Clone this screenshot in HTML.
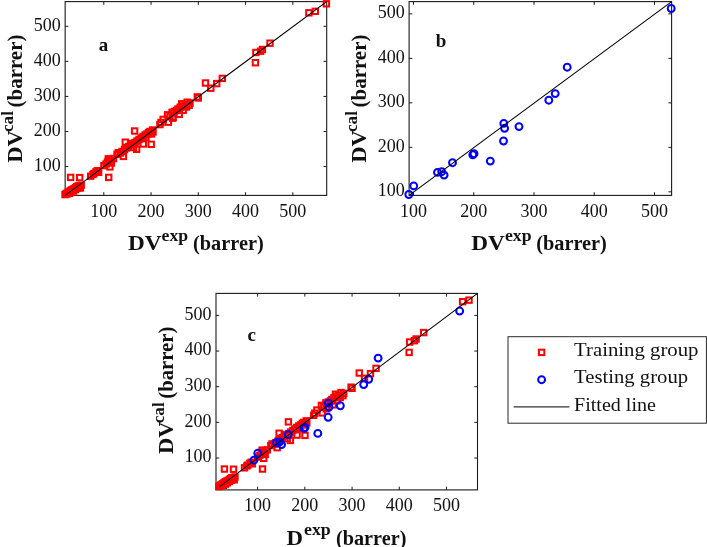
<!DOCTYPE html>
<html lang="en"><head><meta charset="utf-8"><title>DV cal vs DV exp</title>
<style>
html,body{margin:0;padding:0;background:#fff;}
body{width:707px;height:547px;overflow:hidden;}
svg{display:block;}
text{font-family:"Liberation Serif","DejaVu Serif",serif;fill:#111;}
.tk{font-size:19px;}
.lb{font-size:20.5px;font-weight:bold;}
.sp{font-size:17px;font-weight:bold;}
.pn{font-size:19px;font-weight:bold;}
.lg{font-size:19.6px;}
</style></head><body>
<svg width="707" height="547" viewBox="0 0 707 547">
<rect width="707" height="547" fill="#fff"/>
<rect x="65.15" y="1.60" width="261.55" height="193.80" fill="none" stroke="#1a1a1a" stroke-width="1.1"/>
<path d="M103.80 195.40v-3.2M103.80 1.60v3.2M151.06 195.40v-3.2M151.06 1.60v3.2M198.32 195.40v-3.2M198.32 1.60v3.2M245.58 195.40v-3.2M245.58 1.60v3.2M292.84 195.40v-3.2M292.84 1.60v3.2M65.15 166.55h3.2M326.70 166.55h-3.2M65.15 131.49h3.2M326.70 131.49h-3.2M65.15 96.43h3.2M326.70 96.43h-3.2M65.15 61.37h3.2M326.70 61.37h-3.2M65.15 26.31h3.2M326.70 26.31h-3.2" stroke="#1a1a1a" stroke-width="1" fill="none"/>
<text class="tk" x="103.80" y="216.50" text-anchor="middle" textLength="27" lengthAdjust="spacingAndGlyphs">100</text>
<text class="tk" x="151.06" y="216.50" text-anchor="middle" textLength="27" lengthAdjust="spacingAndGlyphs">200</text>
<text class="tk" x="198.32" y="216.50" text-anchor="middle" textLength="27" lengthAdjust="spacingAndGlyphs">300</text>
<text class="tk" x="245.58" y="216.50" text-anchor="middle" textLength="27" lengthAdjust="spacingAndGlyphs">400</text>
<text class="tk" x="292.84" y="216.50" text-anchor="middle" textLength="27" lengthAdjust="spacingAndGlyphs">500</text>
<text class="tk" x="60.75" y="170.85" text-anchor="end" textLength="27" lengthAdjust="spacingAndGlyphs">100</text>
<text class="tk" x="60.75" y="135.79" text-anchor="end" textLength="27" lengthAdjust="spacingAndGlyphs">200</text>
<text class="tk" x="60.75" y="100.73" text-anchor="end" textLength="27" lengthAdjust="spacingAndGlyphs">300</text>
<text class="tk" x="60.75" y="65.67" text-anchor="end" textLength="27" lengthAdjust="spacingAndGlyphs">400</text>
<text class="tk" x="60.75" y="30.61" text-anchor="end" textLength="27" lengthAdjust="spacingAndGlyphs">500</text>
<g fill="none" stroke="#ff0000" stroke-width="2.0">
<rect x="67.90" y="174.70" width="5.4" height="5.4"/>
<rect x="77.00" y="174.90" width="5.4" height="5.4"/>
<rect x="106.00" y="174.70" width="5.4" height="5.4"/>
<rect x="62.30" y="191.90" width="5.4" height="5.4"/>
<rect x="63.30" y="191.20" width="5.4" height="5.4"/>
<rect x="64.30" y="190.50" width="5.4" height="5.4"/>
<rect x="65.30" y="189.80" width="5.4" height="5.4"/>
<rect x="66.30" y="189.10" width="5.4" height="5.4"/>
<rect x="67.30" y="188.40" width="5.4" height="5.4"/>
<rect x="68.30" y="187.70" width="5.4" height="5.4"/>
<rect x="69.30" y="187.00" width="5.4" height="5.4"/>
<rect x="70.50" y="186.50" width="5.4" height="5.4"/>
<rect x="71.70" y="185.90" width="5.4" height="5.4"/>
<rect x="72.90" y="184.90" width="5.4" height="5.4"/>
<rect x="74.10" y="184.00" width="5.4" height="5.4"/>
<rect x="75.30" y="183.20" width="5.4" height="5.4"/>
<rect x="76.50" y="183.60" width="5.4" height="5.4"/>
<rect x="78.50" y="182.50" width="5.4" height="5.4"/>
<rect x="77.70" y="185.30" width="5.4" height="5.4"/>
<rect x="64.80" y="190.90" width="5.4" height="5.4"/>
<rect x="66.80" y="190.70" width="5.4" height="5.4"/>
<rect x="68.80" y="189.60" width="5.4" height="5.4"/>
<rect x="70.80" y="188.30" width="5.4" height="5.4"/>
<rect x="72.80" y="186.90" width="5.4" height="5.4"/>
<rect x="74.80" y="185.60" width="5.4" height="5.4"/>
<rect x="77.50" y="183.10" width="5.4" height="5.4"/>
<rect x="88.00" y="173.50" width="5.4" height="5.4"/>
<rect x="90.30" y="171.70" width="5.4" height="5.4"/>
<rect x="91.30" y="170.80" width="5.4" height="5.4"/>
<rect x="94.60" y="168.00" width="5.4" height="5.4"/>
<rect x="95.90" y="169.60" width="5.4" height="5.4"/>
<rect x="93.30" y="169.10" width="5.4" height="5.4"/>
<rect x="101.20" y="162.90" width="5.4" height="5.4"/>
<rect x="103.30" y="161.30" width="5.4" height="5.4"/>
<rect x="105.60" y="156.10" width="5.4" height="5.4"/>
<rect x="105.90" y="157.90" width="5.4" height="5.4"/>
<rect x="107.20" y="164.20" width="5.4" height="5.4"/>
<rect x="108.70" y="160.30" width="5.4" height="5.4"/>
<rect x="104.80" y="159.30" width="5.4" height="5.4"/>
<rect x="107.80" y="157.80" width="5.4" height="5.4"/>
<rect x="110.80" y="155.80" width="5.4" height="5.4"/>
<rect x="114.30" y="151.60" width="5.4" height="5.4"/>
<rect x="115.60" y="150.00" width="5.4" height="5.4"/>
<rect x="117.80" y="150.30" width="5.4" height="5.4"/>
<rect x="120.70" y="153.70" width="5.4" height="5.4"/>
<rect x="119.30" y="148.80" width="5.4" height="5.4"/>
<rect x="122.60" y="139.50" width="5.4" height="5.4"/>
<rect x="123.80" y="145.30" width="5.4" height="5.4"/>
<rect x="121.80" y="146.80" width="5.4" height="5.4"/>
<rect x="125.80" y="143.80" width="5.4" height="5.4"/>
<rect x="127.80" y="142.30" width="5.4" height="5.4"/>
<rect x="129.30" y="140.80" width="5.4" height="5.4"/>
<rect x="130.80" y="144.80" width="5.4" height="5.4"/>
<rect x="131.90" y="128.30" width="5.4" height="5.4"/>
<rect x="133.90" y="146.60" width="5.4" height="5.4"/>
<rect x="134.30" y="138.30" width="5.4" height="5.4"/>
<rect x="132.30" y="139.80" width="5.4" height="5.4"/>
<rect x="136.30" y="136.80" width="5.4" height="5.4"/>
<rect x="138.30" y="135.30" width="5.4" height="5.4"/>
<rect x="140.60" y="141.30" width="5.4" height="5.4"/>
<rect x="140.30" y="133.80" width="5.4" height="5.4"/>
<rect x="142.30" y="132.30" width="5.4" height="5.4"/>
<rect x="144.30" y="131.30" width="5.4" height="5.4"/>
<rect x="143.30" y="134.80" width="5.4" height="5.4"/>
<rect x="145.80" y="129.80" width="5.4" height="5.4"/>
<rect x="147.30" y="128.80" width="5.4" height="5.4"/>
<rect x="148.50" y="141.60" width="5.4" height="5.4"/>
<rect x="148.80" y="131.30" width="5.4" height="5.4"/>
<rect x="149.80" y="127.30" width="5.4" height="5.4"/>
<rect x="150.30" y="129.30" width="5.4" height="5.4"/>
<rect x="157.20" y="121.90" width="5.4" height="5.4"/>
<rect x="158.30" y="119.80" width="5.4" height="5.4"/>
<rect x="160.40" y="116.70" width="5.4" height="5.4"/>
<rect x="170.00" y="115.50" width="5.4" height="5.4"/>
<rect x="164.90" y="112.10" width="5.4" height="5.4"/>
<rect x="165.70" y="119.50" width="5.4" height="5.4"/>
<rect x="167.30" y="113.30" width="5.4" height="5.4"/>
<rect x="169.40" y="109.60" width="5.4" height="5.4"/>
<rect x="170.40" y="114.60" width="5.4" height="5.4"/>
<rect x="171.80" y="108.80" width="5.4" height="5.4"/>
<rect x="173.80" y="107.80" width="5.4" height="5.4"/>
<rect x="176.50" y="111.60" width="5.4" height="5.4"/>
<rect x="175.30" y="106.30" width="5.4" height="5.4"/>
<rect x="177.50" y="104.50" width="5.4" height="5.4"/>
<rect x="179.00" y="101.10" width="5.4" height="5.4"/>
<rect x="180.50" y="107.50" width="5.4" height="5.4"/>
<rect x="180.30" y="103.30" width="5.4" height="5.4"/>
<rect x="182.30" y="102.30" width="5.4" height="5.4"/>
<rect x="184.50" y="99.50" width="5.4" height="5.4"/>
<rect x="186.50" y="102.50" width="5.4" height="5.4"/>
<rect x="187.30" y="100.30" width="5.4" height="5.4"/>
<rect x="183.80" y="104.30" width="5.4" height="5.4"/>
<rect x="194.60" y="94.20" width="5.4" height="5.4"/>
<rect x="195.60" y="95.30" width="5.4" height="5.4"/>
<rect x="202.80" y="80.30" width="5.4" height="5.4"/>
<rect x="208.10" y="85.50" width="5.4" height="5.4"/>
<rect x="214.00" y="80.90" width="5.4" height="5.4"/>
<rect x="219.60" y="75.70" width="5.4" height="5.4"/>
<rect x="252.70" y="60.00" width="5.4" height="5.4"/>
<rect x="253.20" y="49.80" width="5.4" height="5.4"/>
<rect x="257.90" y="48.50" width="5.4" height="5.4"/>
<rect x="259.70" y="46.80" width="5.4" height="5.4"/>
<rect x="267.30" y="40.50" width="5.4" height="5.4"/>
<rect x="306.20" y="10.10" width="5.4" height="5.4"/>
<rect x="312.60" y="8.60" width="5.4" height="5.4"/>
<rect x="323.70" y="1.10" width="5.4" height="5.4"/>
</g>
<line x1="65.15" y1="195.40" x2="326.70" y2="1.60" stroke="#000" stroke-width="1.1"/>
<text class="pn" x="98.8" y="51">a</text>
<text class="lb" x="127.90" y="250.10" textLength="33.60" lengthAdjust="spacingAndGlyphs">DV</text>
<text class="sp" x="161.60" y="241.10" textLength="26.60" lengthAdjust="spacingAndGlyphs">exp</text>
<text class="lb" x="193.00" y="250.10" textLength="70.80" lengthAdjust="spacingAndGlyphs">(barrer)</text>
<g transform="translate(22.00 162.80) rotate(-90)">
<text class="lb" x="0.00" y="0.00" textLength="32.50" lengthAdjust="spacingAndGlyphs">DV</text>
<text class="sp" x="30.80" y="-9.30" textLength="21.00" lengthAdjust="spacingAndGlyphs">cal</text>
<text class="lb" x="55.40" y="0.00" textLength="72.80" lengthAdjust="spacingAndGlyphs">(barrer)</text>
</g>
<rect x="409.10" y="1.60" width="262.50" height="193.80" fill="none" stroke="#1a1a1a" stroke-width="1.1"/>
<path d="M413.50 195.40v-3.2M413.50 1.60v3.2M473.75 195.40v-3.2M473.75 1.60v3.2M534.00 195.40v-3.2M534.00 1.60v3.2M594.25 195.40v-3.2M594.25 1.60v3.2M654.50 195.40v-3.2M654.50 1.60v3.2M409.10 191.80h3.2M671.60 191.80h-3.2M409.10 147.33h3.2M671.60 147.33h-3.2M409.10 102.85h3.2M671.60 102.85h-3.2M409.10 58.38h3.2M671.60 58.38h-3.2M409.10 13.90h3.2M671.60 13.90h-3.2" stroke="#1a1a1a" stroke-width="1" fill="none"/>
<text class="tk" x="413.50" y="216.50" text-anchor="middle" textLength="27" lengthAdjust="spacingAndGlyphs">100</text>
<text class="tk" x="473.75" y="216.50" text-anchor="middle" textLength="27" lengthAdjust="spacingAndGlyphs">200</text>
<text class="tk" x="534.00" y="216.50" text-anchor="middle" textLength="27" lengthAdjust="spacingAndGlyphs">300</text>
<text class="tk" x="594.25" y="216.50" text-anchor="middle" textLength="27" lengthAdjust="spacingAndGlyphs">400</text>
<text class="tk" x="654.50" y="216.50" text-anchor="middle" textLength="27" lengthAdjust="spacingAndGlyphs">500</text>
<text class="tk" x="404.70" y="196.10" text-anchor="end" textLength="27" lengthAdjust="spacingAndGlyphs">100</text>
<text class="tk" x="404.70" y="151.63" text-anchor="end" textLength="27" lengthAdjust="spacingAndGlyphs">200</text>
<text class="tk" x="404.70" y="107.15" text-anchor="end" textLength="27" lengthAdjust="spacingAndGlyphs">300</text>
<text class="tk" x="404.70" y="62.68" text-anchor="end" textLength="27" lengthAdjust="spacingAndGlyphs">400</text>
<text class="tk" x="404.70" y="18.20" text-anchor="end" textLength="27" lengthAdjust="spacingAndGlyphs">500</text>
<g fill="none" stroke="#0000ff" stroke-width="2.0">
<circle cx="408.80" cy="194.50" r="3.45"/>
<circle cx="413.70" cy="185.90" r="3.45"/>
<circle cx="437.50" cy="172.40" r="3.45"/>
<circle cx="441.70" cy="171.70" r="3.45"/>
<circle cx="444.10" cy="175.10" r="3.45"/>
<circle cx="452.50" cy="162.70" r="3.45"/>
<circle cx="472.80" cy="154.80" r="3.45"/>
<circle cx="474.00" cy="153.70" r="3.45"/>
<circle cx="490.30" cy="161.10" r="3.45"/>
<circle cx="503.50" cy="141.00" r="3.45"/>
<circle cx="503.80" cy="123.40" r="3.45"/>
<circle cx="504.60" cy="128.30" r="3.45"/>
<circle cx="519.00" cy="126.60" r="3.45"/>
<circle cx="548.80" cy="100.20" r="3.45"/>
<circle cx="555.20" cy="93.60" r="3.45"/>
<circle cx="567.20" cy="67.20" r="3.45"/>
<circle cx="671.20" cy="8.50" r="3.45"/>
</g>
<line x1="409.10" y1="195.40" x2="671.60" y2="1.60" stroke="#000" stroke-width="1.1"/>
<text class="pn" x="435.8" y="46.6">b</text>
<text class="lb" x="471.20" y="250.20" textLength="33.60" lengthAdjust="spacingAndGlyphs">DV</text>
<text class="sp" x="504.90" y="241.20" textLength="26.60" lengthAdjust="spacingAndGlyphs">exp</text>
<text class="lb" x="536.20" y="250.20" textLength="70.70" lengthAdjust="spacingAndGlyphs">(barrer)</text>
<g transform="translate(365.90 162.80) rotate(-90)">
<text class="lb" x="0.00" y="0.00" textLength="32.50" lengthAdjust="spacingAndGlyphs">DV</text>
<text class="sp" x="30.80" y="-9.30" textLength="21.00" lengthAdjust="spacingAndGlyphs">cal</text>
<text class="lb" x="55.40" y="0.00" textLength="72.80" lengthAdjust="spacingAndGlyphs">(barrer)</text>
</g>
<rect x="216.00" y="293.40" width="261.50" height="196.50" fill="none" stroke="#1a1a1a" stroke-width="1.1"/>
<path d="M257.60 489.90v-3.2M257.60 293.40v3.2M304.84 489.90v-3.2M304.84 293.40v3.2M352.08 489.90v-3.2M352.08 293.40v3.2M399.31 489.90v-3.2M399.31 293.40v3.2M446.55 489.90v-3.2M446.55 293.40v3.2M216.00 458.00h3.2M477.50 458.00h-3.2M216.00 422.35h3.2M477.50 422.35h-3.2M216.00 386.70h3.2M477.50 386.70h-3.2M216.00 351.05h3.2M477.50 351.05h-3.2M216.00 315.40h3.2M477.50 315.40h-3.2" stroke="#1a1a1a" stroke-width="1" fill="none"/>
<text class="tk" x="257.60" y="511.00" text-anchor="middle" textLength="27" lengthAdjust="spacingAndGlyphs">100</text>
<text class="tk" x="304.84" y="511.00" text-anchor="middle" textLength="27" lengthAdjust="spacingAndGlyphs">200</text>
<text class="tk" x="352.08" y="511.00" text-anchor="middle" textLength="27" lengthAdjust="spacingAndGlyphs">300</text>
<text class="tk" x="399.31" y="511.00" text-anchor="middle" textLength="27" lengthAdjust="spacingAndGlyphs">400</text>
<text class="tk" x="446.55" y="511.00" text-anchor="middle" textLength="27" lengthAdjust="spacingAndGlyphs">500</text>
<text class="tk" x="211.60" y="462.30" text-anchor="end" textLength="27" lengthAdjust="spacingAndGlyphs">100</text>
<text class="tk" x="211.60" y="426.65" text-anchor="end" textLength="27" lengthAdjust="spacingAndGlyphs">200</text>
<text class="tk" x="211.60" y="391.00" text-anchor="end" textLength="27" lengthAdjust="spacingAndGlyphs">300</text>
<text class="tk" x="211.60" y="355.35" text-anchor="end" textLength="27" lengthAdjust="spacingAndGlyphs">400</text>
<text class="tk" x="211.60" y="319.70" text-anchor="end" textLength="27" lengthAdjust="spacingAndGlyphs">500</text>
<g fill="none" stroke="#ff0000" stroke-width="2.0">
<rect x="221.72" y="466.33" width="5.4" height="5.4"/>
<rect x="230.81" y="466.54" width="5.4" height="5.4"/>
<rect x="259.80" y="466.33" width="5.4" height="5.4"/>
<rect x="216.12" y="483.82" width="5.4" height="5.4"/>
<rect x="217.12" y="483.11" width="5.4" height="5.4"/>
<rect x="218.12" y="482.40" width="5.4" height="5.4"/>
<rect x="219.12" y="481.69" width="5.4" height="5.4"/>
<rect x="220.12" y="480.97" width="5.4" height="5.4"/>
<rect x="221.12" y="480.26" width="5.4" height="5.4"/>
<rect x="222.12" y="479.55" width="5.4" height="5.4"/>
<rect x="223.11" y="478.84" width="5.4" height="5.4"/>
<rect x="224.31" y="478.33" width="5.4" height="5.4"/>
<rect x="225.51" y="477.72" width="5.4" height="5.4"/>
<rect x="226.71" y="476.70" width="5.4" height="5.4"/>
<rect x="227.91" y="475.79" width="5.4" height="5.4"/>
<rect x="229.11" y="474.98" width="5.4" height="5.4"/>
<rect x="230.31" y="475.38" width="5.4" height="5.4"/>
<rect x="232.31" y="474.26" width="5.4" height="5.4"/>
<rect x="231.51" y="477.11" width="5.4" height="5.4"/>
<rect x="218.62" y="482.81" width="5.4" height="5.4"/>
<rect x="220.62" y="482.60" width="5.4" height="5.4"/>
<rect x="222.62" y="481.48" width="5.4" height="5.4"/>
<rect x="224.61" y="480.16" width="5.4" height="5.4"/>
<rect x="226.61" y="478.74" width="5.4" height="5.4"/>
<rect x="228.61" y="477.42" width="5.4" height="5.4"/>
<rect x="231.31" y="474.87" width="5.4" height="5.4"/>
<rect x="241.81" y="465.11" width="5.4" height="5.4"/>
<rect x="244.11" y="463.28" width="5.4" height="5.4"/>
<rect x="245.10" y="462.37" width="5.4" height="5.4"/>
<rect x="248.40" y="459.52" width="5.4" height="5.4"/>
<rect x="249.70" y="461.15" width="5.4" height="5.4"/>
<rect x="247.10" y="460.64" width="5.4" height="5.4"/>
<rect x="255.00" y="454.33" width="5.4" height="5.4"/>
<rect x="257.10" y="452.71" width="5.4" height="5.4"/>
<rect x="259.40" y="447.42" width="5.4" height="5.4"/>
<rect x="259.70" y="449.25" width="5.4" height="5.4"/>
<rect x="261.00" y="455.66" width="5.4" height="5.4"/>
<rect x="262.50" y="451.69" width="5.4" height="5.4"/>
<rect x="258.60" y="450.67" width="5.4" height="5.4"/>
<rect x="261.60" y="449.15" width="5.4" height="5.4"/>
<rect x="264.60" y="447.11" width="5.4" height="5.4"/>
<rect x="268.09" y="442.84" width="5.4" height="5.4"/>
<rect x="269.39" y="441.22" width="5.4" height="5.4"/>
<rect x="271.59" y="441.52" width="5.4" height="5.4"/>
<rect x="274.49" y="444.98" width="5.4" height="5.4"/>
<rect x="273.09" y="440.00" width="5.4" height="5.4"/>
<rect x="276.39" y="430.54" width="5.4" height="5.4"/>
<rect x="277.59" y="436.44" width="5.4" height="5.4"/>
<rect x="275.59" y="437.96" width="5.4" height="5.4"/>
<rect x="279.59" y="434.91" width="5.4" height="5.4"/>
<rect x="281.59" y="433.39" width="5.4" height="5.4"/>
<rect x="283.09" y="431.86" width="5.4" height="5.4"/>
<rect x="284.59" y="435.93" width="5.4" height="5.4"/>
<rect x="285.69" y="419.15" width="5.4" height="5.4"/>
<rect x="287.68" y="437.76" width="5.4" height="5.4"/>
<rect x="288.08" y="429.32" width="5.4" height="5.4"/>
<rect x="286.09" y="430.85" width="5.4" height="5.4"/>
<rect x="290.08" y="427.79" width="5.4" height="5.4"/>
<rect x="292.08" y="426.27" width="5.4" height="5.4"/>
<rect x="294.38" y="432.37" width="5.4" height="5.4"/>
<rect x="294.08" y="424.74" width="5.4" height="5.4"/>
<rect x="296.08" y="423.22" width="5.4" height="5.4"/>
<rect x="298.08" y="422.20" width="5.4" height="5.4"/>
<rect x="297.08" y="425.76" width="5.4" height="5.4"/>
<rect x="299.58" y="420.68" width="5.4" height="5.4"/>
<rect x="301.08" y="419.66" width="5.4" height="5.4"/>
<rect x="302.28" y="432.68" width="5.4" height="5.4"/>
<rect x="302.58" y="422.20" width="5.4" height="5.4"/>
<rect x="303.58" y="418.13" width="5.4" height="5.4"/>
<rect x="304.08" y="420.17" width="5.4" height="5.4"/>
<rect x="310.97" y="412.64" width="5.4" height="5.4"/>
<rect x="312.07" y="410.51" width="5.4" height="5.4"/>
<rect x="314.17" y="407.36" width="5.4" height="5.4"/>
<rect x="323.77" y="406.14" width="5.4" height="5.4"/>
<rect x="318.67" y="402.68" width="5.4" height="5.4"/>
<rect x="319.47" y="410.20" width="5.4" height="5.4"/>
<rect x="321.07" y="403.90" width="5.4" height="5.4"/>
<rect x="323.17" y="400.14" width="5.4" height="5.4"/>
<rect x="324.17" y="405.22" width="5.4" height="5.4"/>
<rect x="325.57" y="399.32" width="5.4" height="5.4"/>
<rect x="327.57" y="398.31" width="5.4" height="5.4"/>
<rect x="330.26" y="402.17" width="5.4" height="5.4"/>
<rect x="329.07" y="396.78" width="5.4" height="5.4"/>
<rect x="331.26" y="394.95" width="5.4" height="5.4"/>
<rect x="332.76" y="391.49" width="5.4" height="5.4"/>
<rect x="334.26" y="398.00" width="5.4" height="5.4"/>
<rect x="334.06" y="393.73" width="5.4" height="5.4"/>
<rect x="336.06" y="392.71" width="5.4" height="5.4"/>
<rect x="338.26" y="389.87" width="5.4" height="5.4"/>
<rect x="340.26" y="392.92" width="5.4" height="5.4"/>
<rect x="341.06" y="390.68" width="5.4" height="5.4"/>
<rect x="337.56" y="394.75" width="5.4" height="5.4"/>
<rect x="348.36" y="384.48" width="5.4" height="5.4"/>
<rect x="349.36" y="385.60" width="5.4" height="5.4"/>
<rect x="356.55" y="370.34" width="5.4" height="5.4"/>
<rect x="361.85" y="375.63" width="5.4" height="5.4"/>
<rect x="367.75" y="370.95" width="5.4" height="5.4"/>
<rect x="373.34" y="365.67" width="5.4" height="5.4"/>
<rect x="406.43" y="349.70" width="5.4" height="5.4"/>
<rect x="406.93" y="339.33" width="5.4" height="5.4"/>
<rect x="411.63" y="338.01" width="5.4" height="5.4"/>
<rect x="413.43" y="336.28" width="5.4" height="5.4"/>
<rect x="421.02" y="329.87" width="5.4" height="5.4"/>
<rect x="459.90" y="298.96" width="5.4" height="5.4"/>
<rect x="466.30" y="297.44" width="5.4" height="5.4"/>
</g>
<g fill="none" stroke="#0000ff" stroke-width="2.0">
<circle cx="253.92" cy="460.16" r="3.45"/>
<circle cx="257.76" cy="453.27" r="3.45"/>
<circle cx="276.42" cy="442.45" r="3.45"/>
<circle cx="279.71" cy="441.89" r="3.45"/>
<circle cx="281.59" cy="444.61" r="3.45"/>
<circle cx="288.18" cy="434.67" r="3.45"/>
<circle cx="304.09" cy="428.34" r="3.45"/>
<circle cx="305.03" cy="427.46" r="3.45"/>
<circle cx="317.81" cy="433.39" r="3.45"/>
<circle cx="328.16" cy="417.28" r="3.45"/>
<circle cx="328.40" cy="403.17" r="3.45"/>
<circle cx="329.03" cy="407.10" r="3.45"/>
<circle cx="340.32" cy="405.74" r="3.45"/>
<circle cx="363.68" cy="384.58" r="3.45"/>
<circle cx="368.70" cy="379.29" r="3.45"/>
<circle cx="378.11" cy="358.12" r="3.45"/>
<circle cx="459.65" cy="311.07" r="3.45"/>
</g>
<line x1="219.30" y1="486.90" x2="477.50" y2="293.40" stroke="#000" stroke-width="1.1"/>
<text class="pn" x="247.6" y="341">c</text>
<text class="lb" x="286.50" y="544.50" textLength="16.50" lengthAdjust="spacingAndGlyphs">D</text>
<text class="sp" x="304.00" y="534.70" textLength="26.80" lengthAdjust="spacingAndGlyphs">exp</text>
<text class="lb" x="336.00" y="544.50" textLength="70.40" lengthAdjust="spacingAndGlyphs">(barrer)</text>
<g transform="translate(172.80 454.10) rotate(-90)">
<text class="lb" x="0.00" y="0.00" textLength="32.50" lengthAdjust="spacingAndGlyphs">DV</text>
<text class="sp" x="30.80" y="-9.30" textLength="21.00" lengthAdjust="spacingAndGlyphs">cal</text>
<text class="lb" x="55.40" y="0.00" textLength="72.00" lengthAdjust="spacingAndGlyphs">(barrer)</text>
</g>
<rect x="508" y="336.7" width="198.4" height="86.5" fill="#fff" stroke="#2a2a2a" stroke-width="1"/>
<rect x="538.90" y="349.70" width="5.4" height="5.4" fill="none" stroke="#ff0000" stroke-width="2.0"/>
<circle cx="541.6" cy="379.7" r="3.45" fill="none" stroke="#0000ff" stroke-width="2.0"/>
<line x1="513.7" y1="406.9" x2="569.4" y2="406.9" stroke="#333" stroke-width="1.1"/>
<text class="lg" x="574.1" y="356.2" textLength="124.4" lengthAdjust="spacingAndGlyphs">Training group</text>
<text class="lg" x="574.1" y="383.3" textLength="114.0" lengthAdjust="spacingAndGlyphs">Testing group</text>
<text class="lg" x="574.1" y="410.5" textLength="81.8" lengthAdjust="spacingAndGlyphs">Fitted line</text>
</svg></body></html>
